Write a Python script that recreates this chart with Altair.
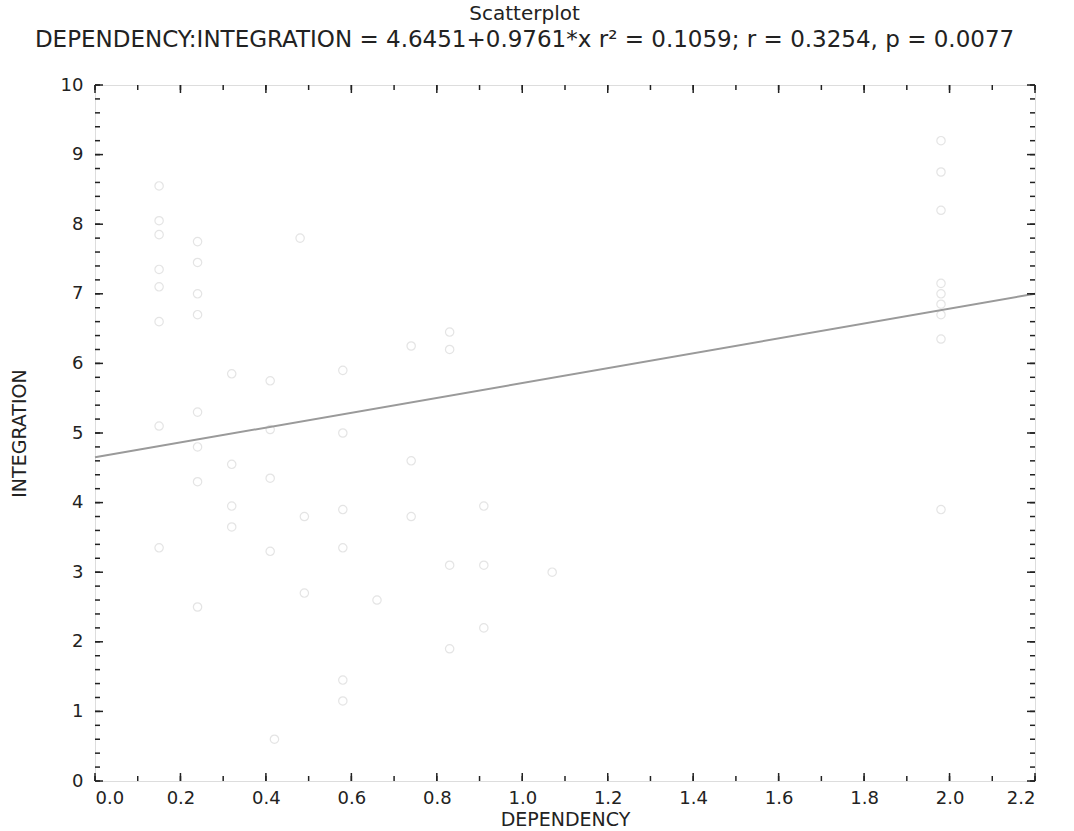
import altair as alt
import pandas as pd

# scatter values
dep = ([0.15] * 8 + [0.24] * 8 + [0.32] * 4 + [0.41] * 4 + [0.42] +
       [0.48, 0.49, 0.49] + [0.58] * 6 + [0.66] + [0.74] * 3 + [0.83] * 4 +
       [0.91] * 3 + [1.07] + [1.98] * 9)
integ = ([8.55, 8.05, 7.85, 7.35, 7.1, 6.6, 5.1, 3.35] +
         [7.75, 7.45, 7.0, 6.7, 5.3, 4.8, 4.3, 2.5] +
         [5.85, 4.55, 3.95, 3.65] +
         [5.75, 5.05, 4.35, 3.3] + [0.6] +
         [7.8, 3.8, 2.7] +
         [5.9, 5.0, 3.9, 3.35, 1.45, 1.15] + [2.6] +
         [6.25, 4.6, 3.8] + [6.45, 6.2, 3.1, 1.9] +
         [3.95, 3.1, 2.2] + [3.0] +
         [9.2, 8.75, 8.2, 7.15, 7.0, 6.85, 6.7, 6.35, 3.9])

# fitted line end points as drawn in the picture
line_x = [0.0, 2.2]
line_y = [4.65, 7.0]

x_ticks_major = [0.0, 0.2, 0.4, 0.6, 0.8, 1.0, 1.2, 1.4, 1.6, 1.8, 2.0, 2.2]
x_ticks_minor = [round(i * 0.1, 1) for i in range(23)]
y_ticks_major = list(range(0, 11))
y_ticks_minor = [round(i * 0.2, 1) for i in range(51)]

W, H = 940, 696
TFONT = "DejaVu Sans"

pts = pd.DataFrame({"DEPENDENCY": dep, "INTEGRATION": integ})
fit = pd.DataFrame({"DEPENDENCY": line_x, "INTEGRATION": line_y})

xscale = alt.Scale(domain=[0, 2.2], nice=False, zero=False)
yscale = alt.Scale(domain=[0, 10], nice=False, zero=False)

xaxis = alt.Axis(values=x_ticks_major, format=".1f", title="DEPENDENCY",
                 grid=False, ticks=False, domain=False, labelFontSize=18,
                 labelColor="#222", labelPadding=8, titleFontSize=19,
                 titleFontWeight="normal", titleColor="#222", titlePadding=3,
                 labelFont=TFONT, titleFont=TFONT)
yaxis = alt.Axis(values=y_ticks_major, format="d", title="INTEGRATION",
                 grid=False, ticks=False, domain=False, labelFontSize=18,
                 labelColor="#222", labelPadding=12, titleFontSize=19,
                 titleFontWeight="normal", titleColor="#222", titlePadding=31,
                 labelFont=TFONT, titleFont=TFONT)

points = alt.Chart(pts).mark_point(
    shape="circle", filled=False, size=70, stroke="#dadada", strokeWidth=1.2
).encode(
    x=alt.X("DEPENDENCY:Q", scale=xscale, axis=xaxis),
    y=alt.Y("INTEGRATION:Q", scale=yscale, axis=yaxis),
)

line = alt.Chart(fit).mark_line(color="#9a9a9a", strokeWidth=2).encode(
    x=alt.X("DEPENDENCY:Q", scale=xscale),
    y=alt.Y("INTEGRATION:Q", scale=yscale),
)

xmaj = pd.DataFrame({"v": x_ticks_major})
xmin = pd.DataFrame({"v": x_ticks_minor})
ymaj = pd.DataFrame({"v": y_ticks_major})
ymin = pd.DataFrame({"v": y_ticks_minor})

def xtick(df, length):
    b = alt.Chart(df).mark_rule(color="#222", strokeWidth=1.5).encode(
        x=alt.X("v:Q", scale=xscale), y=alt.value(H), y2=alt.value(H - length))
    t = alt.Chart(df).mark_rule(color="#222", strokeWidth=1.5).encode(
        x=alt.X("v:Q", scale=xscale), y=alt.value(0), y2=alt.value(length))
    return b + t

def ytick(df, length):
    l = alt.Chart(df).mark_rule(color="#222", strokeWidth=1.5).encode(
        y=alt.Y("v:Q", scale=yscale), x=alt.value(0), x2=alt.value(length))
    r = alt.Chart(df).mark_rule(color="#222", strokeWidth=1.5).encode(
        y=alt.Y("v:Q", scale=yscale), x=alt.value(W), x2=alt.value(W - length))
    return l + r

chart = alt.layer(
    points, line,
    xtick(xmaj, 8), xtick(xmin, 5), ytick(ymaj, 8), ytick(ymin, 5),
).properties(
    width=W, height=H,
    title=alt.TitleParams(
        text="Scatterplot",
        subtitle="DEPENDENCY:INTEGRATION = 4.6451+0.9761*x r\u00b2 = 0.1059; r = 0.3254, p = 0.0077",
        font=TFONT, fontSize=20, fontWeight="normal", color="#222",
        subtitleFont=TFONT, subtitleFontSize=23, subtitleColor="#222",
        subtitlePadding=5, offset=24, anchor="middle", frame="bounds",
    ),
    padding={"left": 95, "top": 85, "right": 39, "bottom": 50},
    autosize=alt.AutoSizeParams(type="none"),
).configure_view(
    stroke="#222", strokeWidth=2
).configure(background="white")

chart.save("out.html", embed_options={"renderer": "svg", "actions": False})
